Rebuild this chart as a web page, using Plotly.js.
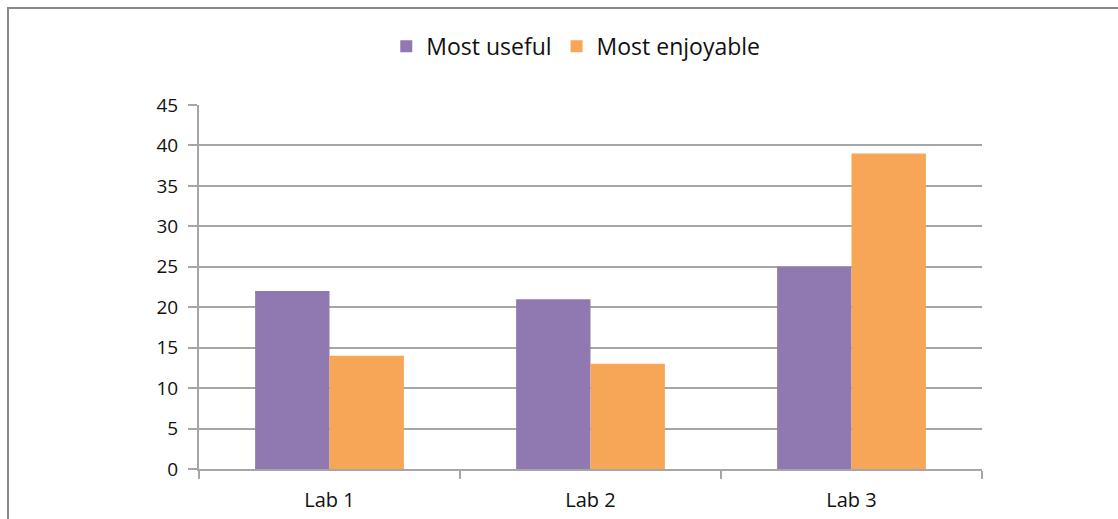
<!DOCTYPE html>
<html>
<head>
<meta charset="utf-8">
<script src="https://cdn.plot.ly/plotly-3.0.1.min.js"></script>
<style>
html,body{margin:0;padding:0;background:#fff;}
#wrap{position:relative;width:1118px;height:519px;overflow:hidden;}
#frame{position:absolute;left:7px;top:7px;width:1200px;height:600px;border-top:2px solid #8a8a8a;border-left:2px solid #8a8a8a;pointer-events:none;}
#chart{position:absolute;left:0;top:0;width:1118px;height:519px;}
</style>
</head>
<body>
<div id="wrap">
<div id="chart"></div>
<div id="frame"></div>
</div>
<script>
const categories = ["Lab 1", "Lab 2", "Lab 3"];
const mostUseful = [22, 21, 25];
const mostEnjoyable = [14, 13, 39];
const yTicks = [0, 5, 10, 15, 20, 25, 30, 35, 40, 45];

const font = "'Open Sans', 'Noto Sans', sans-serif";
const gridColor = "#a6a6a6";

const traces = [
  {type: "bar", name: "Most useful", x: categories, y: mostUseful,
   marker: {color: "#9079b1"}},
  {type: "bar", name: "Most enjoyable", x: categories, y: mostEnjoyable,
   marker: {color: "#f6a656"}}
];

const layout = {
  width: 1118, height: 519,
  margin: {l: 199, r: 136, t: 105, b: 50},
  paper_bgcolor: "rgba(0,0,0,0)",
  plot_bgcolor: "rgba(0,0,0,0)",
  barmode: "group",
  bargap: 0.43,
  bargroupgap: 0,
  font: {family: font, color: "#111111", size: 19},
  showlegend: true,
  legend: {
    orientation: "h", xref: "container", x: 0.515, xanchor: "center",
    yref: "container", y: 0.952, yanchor: "top",
    font: {family: font, size: 23, color: "#111111"},
    itemclick: false, traceorder: "normal"
  },
  xaxis: {
    type: "category",
    showline: true, linecolor: gridColor, linewidth: 2,
    ticks: "outside", tickson: "boundaries", ticklen: 8, tickcolor: gridColor, tickwidth: 2,
    showgrid: false, zeroline: false,
    ticklabelstandoff: 12,
    tickfont: {family: font, size: 20, color: "#111111"}
  },
  yaxis: {
    range: [0, 45],
    tickvals: yTicks, ticktext: yTicks.map(String),
    showline: true, linecolor: gridColor, linewidth: 2,
    ticks: "outside", ticklen: 9, tickcolor: gridColor, tickwidth: 2,
    showgrid: true, gridcolor: gridColor, gridwidth: 2,
    zeroline: false,
    ticklabelstandoff: 6,
    tickfont: {family: font, size: 19, color: "#111111"}
  }
};

Plotly.newPlot("chart", traces, layout, {displayModeBar: false, staticPlot: true});
</script>
</body>
</html>
